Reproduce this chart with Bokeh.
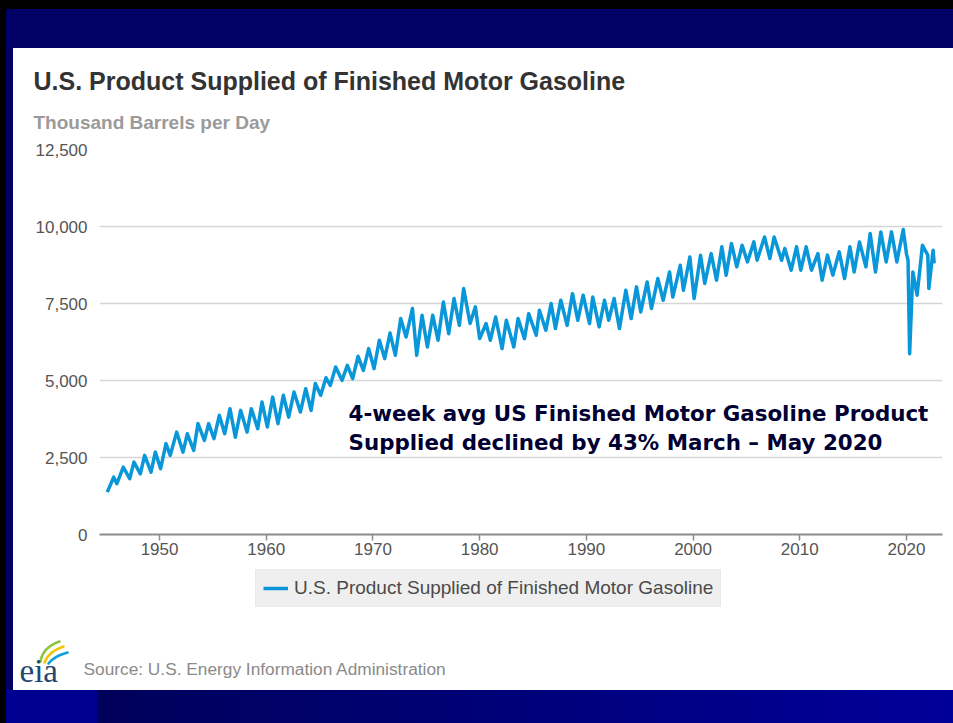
from bokeh.plotting import figure
from bokeh.layouts import column
from bokeh.models import (Range1d, FixedTicker, NumeralTickFormatter, Label,
                          Legend, LegendItem, ColumnDataSource)
from bokeh.embed import file_html
from bokeh.resources import INLINE

# ---- data (seasonal turning points, decimal year) ----
period = [
    1945.1, 1945.7, 1946.0, 1946.6, 1947.2, 1947.6, 1948.2, 1948.6, 1949.2, 1949.6,
    1950.1, 1950.6, 1951.0, 1951.6, 1952.2, 1952.6, 1953.2, 1953.6, 1954.2, 1954.6,
    1955.1, 1955.6, 1956.1, 1956.6, 1957.1, 1957.6, 1958.2, 1958.6, 1959.2, 1959.6,
    1960.1, 1960.6, 1961.1, 1961.6, 1962.1, 1962.6, 1963.2, 1963.7, 1964.2, 1964.6,
    1965.1, 1965.6, 1966.0, 1966.5, 1967.1, 1967.6, 1968.1, 1968.6, 1969.1, 1969.6,
    1970.1, 1970.6, 1971.1, 1971.6, 1972.1, 1972.6, 1973.1, 1973.7, 1974.1, 1974.6,
    1975.1, 1975.6, 1976.1, 1976.6, 1977.1, 1977.6, 1978.1, 1978.5, 1979.1, 1979.6,
    1980.0, 1980.6, 1981.0, 1981.5, 1982.1, 1982.5, 1983.2, 1983.6, 1984.2, 1984.6,
    1985.3, 1985.6, 1986.2, 1986.7, 1987.1, 1987.6, 1988.2, 1988.7, 1989.2, 1989.7,
    1990.3, 1990.6, 1991.2, 1991.7, 1992.1, 1992.6, 1993.1, 1993.7, 1994.2, 1994.7,
    1995.1, 1995.7, 1996.1, 1996.7, 1997.2, 1997.8, 1998.1, 1998.8, 1999.1, 1999.7,
    2000.1, 2000.7, 2001.1, 2001.7, 2002.2, 2002.7, 2003.1, 2003.6, 2004.1, 2004.6,
    2005.1, 2005.7, 2006.0, 2006.7, 2007.2, 2007.6, 2008.3, 2008.6, 2009.2, 2009.7,
    2010.1, 2010.6, 2011.1, 2011.7, 2012.1, 2012.6, 2013.1, 2013.7, 2014.2, 2014.7,
    2015.1, 2015.6, 2016.2, 2016.6, 2017.1, 2017.6, 2018.1, 2018.6, 2019.1, 2019.7,
    2020.0, 2020.15, 2020.3, 2020.6, 2021.0, 2021.5, 2022.0, 2022.1, 2022.5, 2022.6,
]
supplied_kbd = [
    1375, 1862, 1650, 2190, 1810, 2350, 1970, 2570, 2025, 2675,
    2135, 2950, 2570, 3325, 2675, 3270, 2730, 3600, 3055, 3600,
    3110, 3870, 3270, 4085, 3160, 4030, 3325, 4085, 3435, 4300,
    3490, 4460, 3600, 4520, 3810, 4625, 3975, 4735, 4030, 4900,
    4520, 5090, 4840, 5440, 5005, 5490, 5060, 5785, 5330, 6035,
    5385, 6305, 5710, 6540, 5820, 7010, 6410, 7335, 5820, 7120,
    6090, 7120, 6305, 7550, 6520, 7660, 6790, 7985, 6850, 7390,
    6360, 6850, 6305, 7060, 6035, 6955, 6090, 7010, 6360, 7170,
    6470, 7280, 6630, 7500, 6685, 7605, 6790, 7820, 6955, 7770,
    6850, 7710, 6740, 7605, 6955, 7660, 6685, 7930, 7010, 8040,
    7225, 8200, 7335, 8310, 7605, 8525, 7710, 8740, 7930, 9010,
    7660, 9070, 8150, 9120, 8255, 9340, 8420, 9450, 8690, 9390,
    8850, 9500, 8905, 9660, 8960, 9660, 8905, 9285, 8580, 9340,
    8580, 9340, 8580, 9120, 8255, 9070, 8420, 9175, 8310, 9340,
    8525, 9500, 8690, 9770, 8525, 9825, 8850, 9825, 8850, 9900,
    9120, 8900, 5870, 8525, 7770, 9390, 9070, 7985, 9230, 8800,
]
x_tick_years = [1950, 1960, 1970, 1980, 1990, 2000, 2010, 2020]
y_tick_values = [0, 2500, 5000, 7500, 10000, 12500]

title_text = "U.S. Product Supplied of Finished Motor Gasoline"
unit_text = "Thousand Barrels per Day"
series_name = "U.S. Product Supplied of Finished Motor Gasoline"
note_lines = ["4-week avg US Finished Motor Gasoline Product",
              "Supplied declined by 43% March \u2013 May 2020"]
source_text = "Source: U.S. Energy Information Administration"

FONT = "Liberation Sans"
LINE_COLOR = "#0a97d9"
W = 940
OX, OY = 13, 48            # white panel origin on the page
HEAD_BOTTOM = 139          # page y where header ends / chart canvas starts
FRAME_TOP, FRAME_BOTTOM = 149, 534
FRAME_LEFT, FRAME_RIGHT = 99, 942
CHART_BOTTOM = 565
PANEL_BOTTOM = 690


def blank(height):
    # a frame covering the whole strip; x/y ranges equal to its pixel size
    f = figure(width=W, height=height, output_backend="svg", toolbar_location=None,
               x_axis_location=None, y_axis_location=None, min_border=0,
               x_range=Range1d(0, W), y_range=Range1d(0, height),
               background_fill_color="white", border_fill_color="white")
    f.outline_line_color = None
    f.grid.visible = False
    f.frame_align = False
    return f


def lab(fig, text, px, py, left, bottom, size, color, font=FONT, style="normal",
        baseline="middle"):
    # px, py: page pixels; screen units are relative to the frame's bottom-left
    fig.add_layout(Label(x=px - left, y=bottom - py, x_units="screen",
                         y_units="screen", text=text, text_font=font,
                         text_font_size=size, text_color=color,
                         text_font_style=style, text_baseline=baseline,
                         text_align="left"))


# ---------------- header ----------------
head = blank(HEAD_BOTTOM - OY)
lab(head, title_text, 33, 80, OX, HEAD_BOTTOM, "25px", "#333333", style="bold")
lab(head, unit_text, 33, 122, OX, HEAD_BOTTOM, "19px", "#9a9a9a", style="bold")

# ---------------- chart ----------------
p = figure(width=W, height=CHART_BOTTOM - HEAD_BOTTOM, output_backend="svg",
           toolbar_location=None,
           x_range=Range1d(1944.37, 2023.38), y_range=Range1d(0, 12500),
           min_border_left=FRAME_LEFT - OX, min_border_right=OX + W - FRAME_RIGHT,
           min_border_top=FRAME_TOP - HEAD_BOTTOM,
           min_border_bottom=CHART_BOTTOM - FRAME_BOTTOM,
           background_fill_color="white", border_fill_color="white")
p.outline_line_color = None
p.frame_align = False

src = ColumnDataSource(dict(x=period, y=supplied_kbd))
p.line("x", "y", source=src, line_width=3.5, line_color=LINE_COLOR,
       line_join="round")

p.xaxis.ticker = FixedTicker(ticks=x_tick_years)
p.xaxis.axis_line_color = "#8c8c8c"
p.xaxis.axis_line_width = 2
p.xaxis.major_tick_line_color = "#8c8c8c"
p.xaxis.major_tick_line_width = 1.5
p.xaxis.major_tick_out = 6
p.xaxis.major_tick_in = 0
p.xaxis.minor_tick_line_color = None
p.xaxis.major_label_text_font = FONT
p.xaxis.major_label_text_font_size = "17px"
p.xaxis.major_label_text_color = "#555555"
p.xaxis.major_label_standoff = 2
p.xgrid.grid_line_color = None

p.yaxis.ticker = FixedTicker(ticks=y_tick_values)
p.yaxis.formatter = NumeralTickFormatter(format="0,0")
p.yaxis.axis_line_color = None
p.yaxis.major_tick_line_color = None
p.yaxis.minor_tick_line_color = None
p.yaxis.major_label_text_font = FONT
p.yaxis.major_label_text_font_size = "17px"
p.yaxis.major_label_text_color = "#555555"
p.yaxis.major_label_standoff = 6
p.ygrid.ticker = FixedTicker(ticks=y_tick_values)
p.ygrid.grid_line_color = "#d6d6d6"
p.ygrid.grid_line_width = 1.5

lab(p, note_lines[0], 348, 413, FRAME_LEFT, FRAME_BOTTOM, "21.4px", "#000033",
    font="DejaVu Sans", style="bold")
lab(p, note_lines[1], 348, 442, FRAME_LEFT, FRAME_BOTTOM, "21.4px", "#000033",
    font="DejaVu Sans", style="bold")

# ---------------- footer: legend + source ----------------
FH = PANEL_BOTTOM - CHART_BOTTOM
foot = blank(FH)
key = foot.line(x=[float("nan")], y=[float("nan")], line_width=3.5,
                line_color=LINE_COLOR)
legend = Legend(items=[LegendItem(label=series_name, renderers=[key])],
                location=(255 - OX, PANEL_BOTTOM - 607),
                orientation="horizontal",
                label_text_font=FONT, label_text_font_size="19px",
                label_text_color="#4a4a4a", background_fill_color="#efefef",
                background_fill_alpha=1.0, border_line_color="#e4e4e4",
                padding=7, margin=0, glyph_width=25, glyph_height=20,
                label_standoff=6, label_height=20)
foot.add_layout(legend)
lab(foot, source_text, 83, 668, OX, PANEL_BOTTOM, "17.3px", "#8a8a8a")
lab(foot, "eia", 19, 670, OX, PANEL_BOTTOM, "33px", "#24466f",
    font="Liberation Serif")


# eia logo swooshes (decoration, footer pixel space: x from left, y up)
def px(x):
    return x - OX


def py(y):
    return PANEL_BOTTOM - y


swoosh_colors = ["#8cc63f", "#f5c400", "#0aa0dc"]
x0s = [px(40), px(44), px(48)]
y0s = [py(661), py(662), py(663)]
cxs = [px(42), px(48), px(53)]
cys = [py(647), py(651), py(656)]
x1s = [px(59), px(63), px(67)]
y1s = [py(641), py(646), py(652)]
foot.quadratic(x0=x0s, y0=y0s, x1=x1s, y1=y1s, cx=cxs, cy=cys,
               line_color=swoosh_colors, line_width=2.6, line_cap="round")

page = column(head, p, foot, spacing=0)
page.margin = (OY, 0, 0, OX)
page.styles = {"background-color": "#ffffff"}

html = file_html(page, INLINE)
css = ("<style>html{background:linear-gradient(to right,#000090 0px,#000090 97px,"
       "#00005a 98px,#00009a 100%) left bottom/100% 33px no-repeat,#000066;"
       "box-shadow:inset 6px 9px 0 0 #000;}"
       "body{background:transparent;}</style>")
html = html.replace("</head>", css + "</head>")
open("out.html", "w").write(html)
